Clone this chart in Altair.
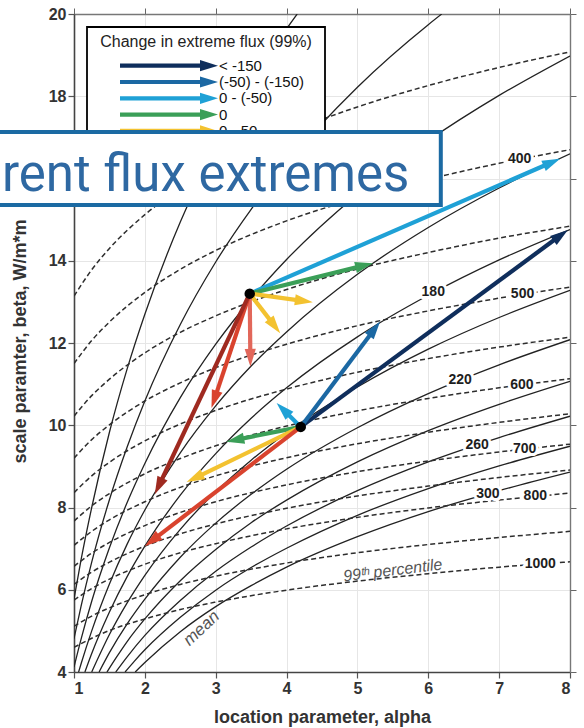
import math
import altair as alt
import pandas as pd

# ---------------------------------------------------------------------------
# Plot geometry (plot area only) and axis domains
W, H = 496, 658
PAD_L, PAD_T, PAD_R, PAD_B = 74, 14, 14, 56
A_MIN, A_MAX = 1, 8
B_MIN, B_MAX = 4, 20
KX = W / (A_MAX - A_MIN)
KY = H / (B_MAX - B_MIN)

FONT = "Liberation Sans"

# ---------------------------------------------------------------------------
# Iso-lines of the mean (solid), as (alpha, beta) points
MEAN_100 = [(1, 5.77), (1.1, 6.73), (1.25, 8.00), (1.5, 9.83), (1.75, 11.37), (2, 12.70),
            (2.5, 14.94), (3, 16.76), (3.5, 18.30), (4, 19.64), (4.15, 20.0)]
MEAN_120 = [(1, 4.81), (1.1, 5.60), (1.25, 6.67), (1.5, 8.19), (1.75, 9.47), (2, 10.59),
            (2.5, 12.45), (3, 13.97), (3.5, 15.25), (4, 16.36), (5, 18.22), (6, 19.74), (6.19, 20.0)]
MEAN_140 = [(1, 4.12), (1.1, 4.80), (1.25, 5.72), (1.5, 7.02), (1.75, 8.12), (2, 9.07),
            (2.5, 10.67), (3, 11.97), (3.5, 13.07), (4, 14.03), (5, 15.62), (6, 16.92), (7, 18.02), (8, 18.98)]
MEAN_160 = [(1.065, 4.0), (1.1, 4.20), (1.25, 5.00), (1.5, 6.14), (1.75, 7.11), (2, 7.94),
            (2.5, 9.33), (3, 10.47), (3.5, 11.44), (4, 12.27), (5, 13.67), (6, 14.81), (7, 15.77), (8, 16.60)]
MEAN_180 = [(1.154, 4.0), (1.25, 4.45), (1.5, 5.46), (1.75, 6.32), (2, 7.06), (2.5, 8.30),
            (3, 9.31), (3.5, 10.17), (4, 10.91), (5, 12.15), (6, 13.16), (7, 14.02), (8, 14.76)]
MEAN_200 = [(1.25, 4.0), (1.5, 4.91), (1.75, 5.68), (2, 6.35), (2.5, 7.47), (3, 8.38),
            (3.5, 9.15), (4, 9.82), (5, 10.93), (6, 11.85), (7, 12.62), (8, 13.28)]
MEAN_220 = [(1.354, 4.0), (1.5, 4.47), (1.75, 5.17), (2, 5.77), (2.5, 6.79), (3, 7.62),
            (3.5, 8.32), (4, 8.93), (5, 9.94), (6, 10.77), (7, 11.47), (8, 12.08)]
MEAN_240 = [(1.466, 4.0), (1.6, 4.36), (1.75, 4.74), (2, 5.29), (2.5, 6.22), (3, 6.98),
            (3.5, 7.63), (4, 8.18), (5, 9.11), (6, 9.87), (7, 10.51), (8, 11.07)]
MEAN_260 = [(1.589, 4.0), (1.75, 4.37), (2, 4.89), (2.5, 5.74), (3, 6.45), (3.5, 7.04),
            (4, 7.55), (5, 8.41), (6, 9.11), (7, 9.70), (8, 10.22)]
MEAN_280 = [(1.721, 4.0), (1.85, 4.26), (2, 4.54), (2.5, 5.33), (3, 5.99), (3.5, 6.54),
            (4, 7.01), (5, 7.81), (6, 8.46), (7, 9.01), (8, 9.49)]
MEAN_300 = [(1.864, 4.0), (2, 4.23), (2.5, 4.98), (3, 5.59), (3.5, 6.10), (4, 6.55),
            (5, 7.29), (6, 7.90), (7, 8.41), (8, 8.86)]

MEAN_CURVES = {100: MEAN_100, 120: MEAN_120, 140: MEAN_140, 160: MEAN_160, 180: MEAN_180,
               200: MEAN_200, 220: MEAN_220, 240: MEAN_240, 260: MEAN_260, 280: MEAN_280,
               300: MEAN_300}

# Iso-lines of the 99th percentile (dashed), beta at common alpha positions
ALPHA_P99 = [1, 1.25, 1.5, 2, 2.5, 3, 4, 5, 6, 7, 8]
P99_350 = [13.14, 13.78, 14.30, 15.12, 15.76, 16.28, 17.10, 17.74, 18.26, 18.70, 19.08]
P99_400 = [11.50, 12.06, 12.51, 13.23, 13.79, 14.25, 14.97, 15.52, 15.98, 16.37, 16.70]
P99_450 = [10.22, 10.72, 11.12, 11.76, 12.26, 12.66, 13.30, 13.80, 14.20, 14.55, 14.84]
P99_500 = [9.20, 9.65, 10.01, 10.59, 11.03, 11.40, 11.97, 12.42, 12.78, 13.09, 13.36]
P99_550 = [8.36, 8.77, 9.10, 9.62, 10.03, 10.36, 10.88, 11.29, 11.62, 11.90, 12.14]
P99_600 = [7.67, 8.04, 8.34, 8.82, 9.19, 9.50, 9.98, 10.35, 10.65, 10.91, 11.13]
P99_650 = [7.08, 7.42, 7.70, 8.14, 8.49, 8.77, 9.21, 9.55, 9.83, 10.07, 10.28]
P99_700 = [6.57, 6.89, 7.15, 7.56, 7.88, 8.14, 8.55, 8.87, 9.13, 9.35, 9.54]
P99_750 = [6.13, 6.43, 6.67, 7.06, 7.36, 7.60, 7.98, 8.28, 8.52, 8.73, 8.91]
P99_800 = [5.75, 6.03, 6.26, 6.62, 6.90, 7.12, 7.48, 7.76, 7.99, 8.18, 8.35]
P99_900 = [5.11, 5.36, 5.56, 5.88, 6.13, 6.33, 6.65, 6.90, 7.10, 7.27, 7.42]
P99_1000 = [4.60, 4.82, 5.01, 5.29, 5.52, 5.70, 5.99, 6.21, 6.39, 6.55, 6.68]

P99_CURVES = {350: P99_350, 400: P99_400, 450: P99_450, 500: P99_500, 550: P99_550,
              600: P99_600, 650: P99_650, 700: P99_700, 750: P99_750, 800: P99_800,
              900: P99_900, 1000: P99_1000}

# Contour labels
MEAN_LABELS = ["180", "220", "260", "300"]
MEAN_LABEL_A = [6.07, 6.45, 6.69, 6.84]
MEAN_LABEL_B = [13.23, 11.10, 9.53, 8.33]
P99_LABELS = ["400", "500", "600", "700", "800", "1000"]
P99_LABEL_A = [7.29, 7.33, 7.32, 7.36, 7.51, 7.58]
P99_LABEL_B = [16.47, 13.18, 10.98, 9.42, 8.27, 6.63]

# Flux-change classes (legend order)
CLASSES = ["< -150", "(-50) - (-150)", "0 - (-50)", "0", "0 - 50", "50 - 100", "100 - 150", "> 150"]
CLASS_COLORS = ["#0f2e5c", "#1b68a3", "#1fa1d6", "#3b9f58", "#f3c230", "#e2675a", "#d9432e", "#9f2a20"]
LEGEND_ROWS = 5  # rows of the key that stay uncovered

# Present-day states and their projected shifts
STATE_A = [3.48, 4.20]
STATE_B = [13.20, 9.96]
ARROW_FROM = [0, 0, 0, 0, 0, 0, 0, 1, 1, 1, 1, 1, 1]
ARROW_TO_A = [7.86, 5.22, 4.37, 3.91, 3.49, 2.94, 2.14, 7.97, 5.32, 3.86, 3.15, 2.59, 2.00]
ARROW_TO_B = [16.48, 13.94, 12.99, 12.24, 11.42, 10.42, 8.32, 14.75, 12.52, 10.54, 9.60, 8.62, 7.06]
ARROW_CLASS = ["0 - (-50)", "0", "0 - 50", "0 - 50", "50 - 100", "100 - 150", "> 150",
               "< -150", "(-50) - (-150)", "0 - (-50)", "0", "0 - 50", "100 - 150"]

# ---------------------------------------------------------------------------
def a_of(px):
    return A_MIN + (px - PAD_L) / KX


def b_of(py):
    return B_MIN + (PAD_T + H - py) / KY


color_of = dict(zip(CLASSES, CLASS_COLORS))
HEAD = "M0,0L-2,-0.62L-2,0.62Z"
HEAD_SIZE = 324
HEAD_BACK = 12

XS = alt.Scale(domain=[A_MIN, A_MAX], nice=False, zero=False)
YS = alt.Scale(domain=[B_MIN, B_MAX], nice=False, zero=False)


def X(field, axis=None):
    return alt.X(field, type="quantitative", scale=XS, axis=axis)


def Y(field, axis=None):
    return alt.Y(field, type="quantitative", scale=YS, axis=axis)


mean_df = pd.DataFrame([{"level": lv, "a": a, "b": b}
                        for lv, pts in MEAN_CURVES.items() for a, b in pts])
p99_df = pd.DataFrame([{"level": lv, "a": a, "b": b}
                       for lv, vals in P99_CURVES.items() for a, b in zip(ALPHA_P99, vals)])

arrow_rows = []
for src, a1, b1, cls in zip(ARROW_FROM, ARROW_TO_A, ARROW_TO_B, ARROW_CLASS):
    a0, b0 = STATE_A[src], STATE_B[src]
    dx, dy = (a1 - a0) * KX, (b1 - b0) * KY
    length = math.hypot(dx, dy)
    t = max(length - HEAD_BACK, 0) / length
    arrow_rows.append({"a0": a0, "b0": b0, "a1": a1, "b1": b1,
                       "sa": a0 + (a1 - a0) * t, "sb": b0 + (b1 - b0) * t,
                       "ang": math.degrees(math.atan2(-dy, dx)) % 360,
                       "color": color_of[cls]})
arrow_df = pd.DataFrame(arrow_rows)
state_df = pd.DataFrame({"a": STATE_A, "b": STATE_B})

mean_lab_df = pd.DataFrame({"t": MEAN_LABELS, "a": MEAN_LABEL_A, "b": MEAN_LABEL_B})
p99_lab_df = pd.DataFrame({"t": P99_LABELS, "a": P99_LABEL_A, "b": P99_LABEL_B})
lab_df = pd.concat([mean_lab_df, p99_lab_df], ignore_index=True)

# ---------------------------------------------------------------------------
# Axes
common_axis = dict(labelFont=FONT, labelFontWeight="bold", labelFontSize=16, labelColor="#333",
                   titleFont=FONT, titleFontWeight="bold", titleColor="#333", titleFontSize=18,
                   tickColor="#555", tickSize=6, tickWidth=1.2,
                   domainColor="#444", domainWidth=1.6,
                   gridColor="#e6e6e6", gridWidth=1)
x_bottom = alt.Axis(values=list(range(1, 9)), format="d", grid=True, labelPadding=2,
                    title="location parameter, alpha",
                    titleY=50, titleBaseline="alphabetic", **common_axis)
# the 16 label sits under the banner, so it is left blank
y_left = alt.Axis(values=list(range(4, 21, 2)), format="d", grid=True, labelPadding=2,
                  labelExpr="datum.value == 16 ? '' : datum.label",
                  title="scale paramter, beta, W/m*m",
                  titleAngle=270, titleX=-54, titleY=327, titleAlign="center",
                  titleBaseline="middle", **common_axis)
x_top = alt.Axis(orient="top", values=list(range(1, 9)), labels=False, grid=False, title=None,
                 tickColor="#666", tickSize=6, domainColor="#777", domainWidth=1.4)
y_right = alt.Axis(orient="right", values=list(range(4, 21, 2)), labels=False, grid=False,
                   title=None, tickColor="#666", tickSize=6, domainColor="#777", domainWidth=1.4)

# ---------------------------------------------------------------------------
mean_lines = alt.Chart(mean_df).mark_line(
    color="#222222", strokeWidth=1.3, interpolate="monotone", clip=True
).encode(x=X("a", x_bottom), y=Y("b", y_left), detail="level:N", order="a:Q")

p99_lines = alt.Chart(p99_df).mark_line(
    color="#2e2e2e", strokeWidth=1.5, strokeDash=[5, 3], interpolate="monotone", clip=True
).encode(x=X("a"), y=Y("b"), detail="level:N", order="a:Q")

label_halo = alt.Chart(lab_df).mark_text(
    font=FONT, fontWeight="bold", fontSize=14, color="white", stroke="white",
    strokeWidth=6, strokeJoin="round"
).encode(x=X("a"), y=Y("b"), text="t:N")
labels = alt.Chart(lab_df).mark_text(
    font=FONT, fontWeight="bold", fontSize=14, color="#1e1e1e"
).encode(x=X("a"), y=Y("b"), text="t:N")

mean_word = alt.Chart(pd.DataFrame({"a": [2.80], "b": [5.06], "t": ["mean"]})).mark_text(
    font=FONT, fontStyle="italic", fontSize=17, color="#555", angle=317
).encode(x=X("a"), y=Y("b"), text="t:N")
pct_word = alt.Chart(pd.DataFrame({"a": [5.50], "b": [6.47], "t": ["99ᵗʰ percentile"]})).mark_text(
    font=FONT, fontStyle="italic", fontSize=16, color="#555", angle=353
).encode(x=X("a"), y=Y("b"), text="t:N")

shafts = alt.Chart(arrow_df).mark_rule(strokeWidth=4.2, strokeCap="butt").encode(
    x=X("a0"), y=Y("b0"), x2="sa:Q", y2="sb:Q", color=alt.Color("color:N", scale=None))
heads = alt.Chart(arrow_df).mark_point(
    shape=HEAD, filled=True, size=HEAD_SIZE, opacity=1, strokeWidth=0
).encode(x=X("a1"), y=Y("b1"), angle=alt.Angle("ang:Q", scale=None),
         color=alt.Color("color:N", scale=None))

states = alt.Chart(state_df).mark_circle(size=110, color="black", opacity=1).encode(
    x=X("a", x_top), y=Y("b", y_right))

# ---------------------------------------------------------------------------
# Key drawn inside the plot frame
LEG_LEFT, LEG_RIGHT, LEG_TOP, LEG_BOTTOM = 87, 325, 27, 192
LEG_ROW0, LEG_STEP = 65.7, 16.3
LEG_ARROW_X0, LEG_ARROW_TIP, LEG_TEXT_X = 120, 218, 219
n_rows = LEGEND_ROWS
leg_df = pd.DataFrame({
    "label": CLASSES[:n_rows],
    "color": CLASS_COLORS[:n_rows],
    "a0": [a_of(LEG_ARROW_X0)] * n_rows,
    "sa": [a_of(LEG_ARROW_TIP - HEAD_BACK)] * n_rows,
    "a1": [a_of(LEG_ARROW_TIP)] * n_rows,
    "at": [a_of(LEG_TEXT_X)] * n_rows,
    "b": [b_of(LEG_ROW0 + i * LEG_STEP) for i in range(n_rows)],
    "ang": [0] * n_rows,
})
one = pd.DataFrame({"k": [0]})
leg_box = alt.Chart(one).mark_rect(fill="white", stroke="black", strokeWidth=1.8).encode(
    x=alt.value(LEG_LEFT - PAD_L), x2=alt.value(LEG_RIGHT - PAD_L),
    y=alt.value(LEG_TOP - PAD_T), y2=alt.value(LEG_BOTTOM - PAD_T))
leg_title = alt.Chart(one).mark_text(
    font=FONT, fontSize=16, color="#222", align="center", baseline="alphabetic"
).encode(x=alt.value((LEG_LEFT + LEG_RIGHT) / 2 - PAD_L), y=alt.value(47 - PAD_T),
         text=alt.value("Change in extreme flux (99%)"))
leg_shafts = alt.Chart(leg_df).mark_rule(strokeWidth=4.2, strokeCap="butt").encode(
    x=X("a0"), x2="sa:Q", y=Y("b"), color=alt.Color("color:N", scale=None))
leg_heads = alt.Chart(leg_df).mark_point(
    shape=HEAD, filled=True, size=HEAD_SIZE, opacity=1, strokeWidth=0
).encode(x=X("a1"), y=Y("b"), angle=alt.Angle("ang:Q", scale=None),
         color=alt.Color("color:N", scale=None))
leg_labels = alt.Chart(leg_df).mark_text(
    font=FONT, fontSize=15, color="#111", align="left", baseline="middle"
).encode(x=X("at"), y=Y("b"), text="label:N")

# Banner across the upper part of the figure
banner_box = alt.Chart(one).mark_rect(fill="white", stroke="#1b6aa3", strokeWidth=4).encode(
    x=alt.value(-90), x2=alt.value(440.8 - PAD_L),
    y=alt.value(132 - PAD_T), y2=alt.value(205 - PAD_T))
banner_text = alt.Chart(one).mark_text(
    font="Roboto", fontSize=51, color="#2e68a2", align="left", baseline="alphabetic"
).encode(x=alt.value(2 - PAD_L), y=alt.value(191 - PAD_T), text=alt.value("rent flux extremes"))

chart = alt.layer(
    mean_lines, p99_lines, label_halo, labels, mean_word, pct_word,
    shafts, heads, states,
    leg_box, leg_title, leg_shafts, leg_heads, leg_labels,
    banner_box, banner_text,
).resolve_axis(x="independent", y="independent").properties(
    width=W, height=H,
    padding={"left": PAD_L, "top": PAD_T, "right": PAD_R, "bottom": PAD_B},
    autosize=alt.AutoSizeParams(type="none"),
).configure_view(stroke=None).configure(background="white")

chart.save("out.html", embed_options={"renderer": "svg", "actions": False})
